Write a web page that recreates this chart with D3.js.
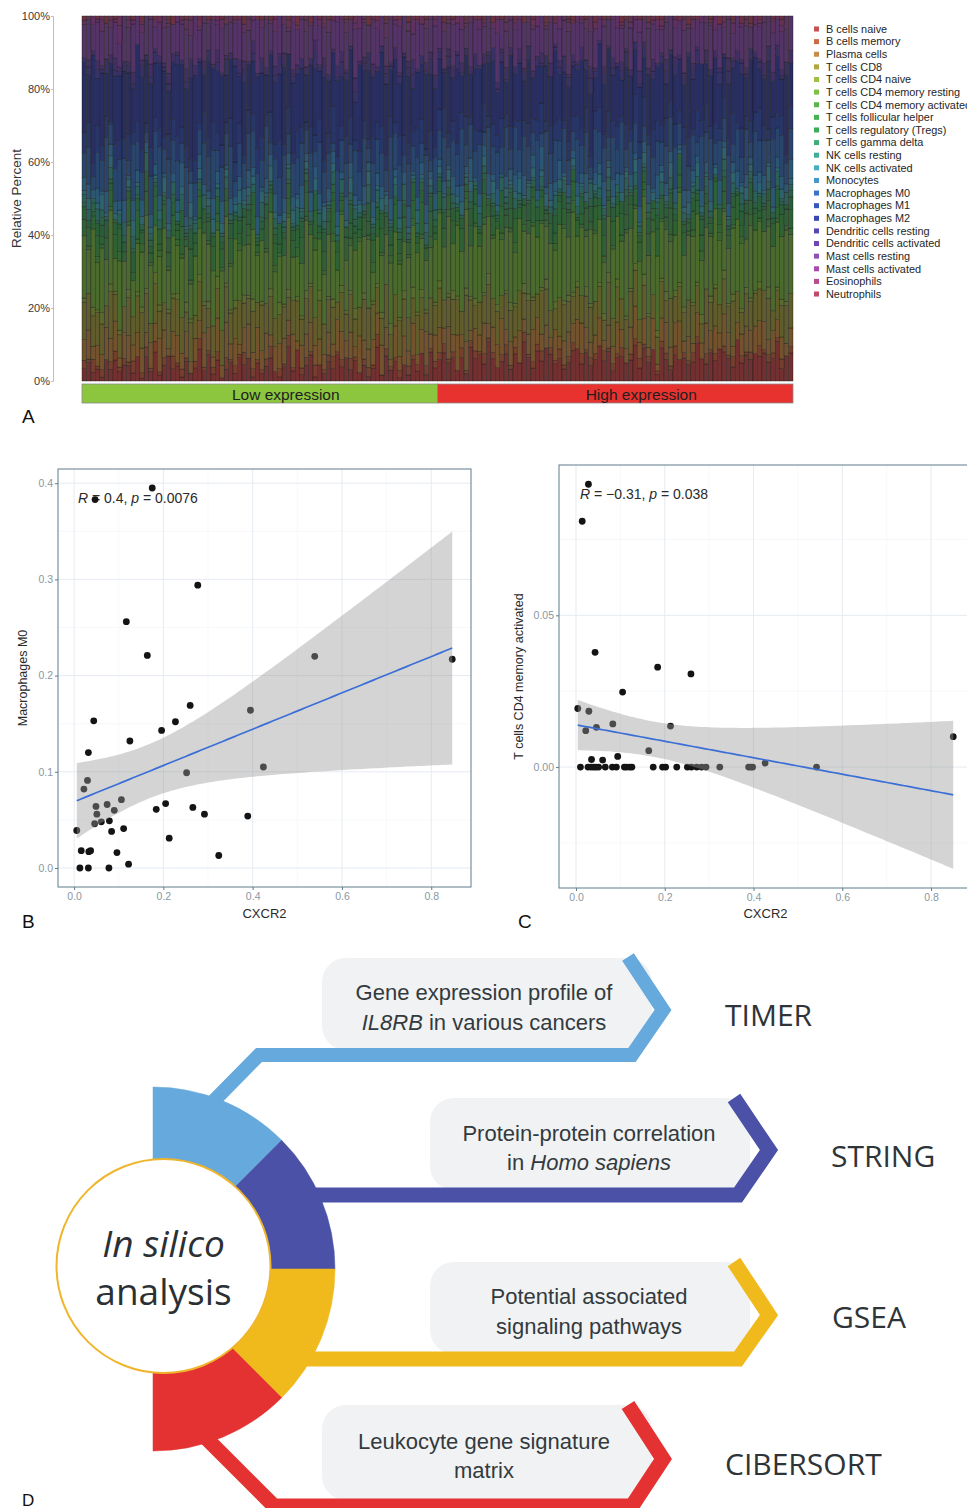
<!DOCTYPE html>
<html>
<head>
<meta charset="utf-8">
<script src="https://cdn.jsdelivr.net/npm/d3@7"></script>
<style>
	body { margin: 0; background: #ffffff; }
	svg { display: block; }
</style>
</head>
<body>
<script>
const WIDTH = 967;
const HEIGHT = 1508;

// ---------- Panel A: CIBERSORT fractions ----------
const cellTypes = [
	"B cells naive", "B cells memory", "Plasma cells", "T cells CD8", "T cells CD4 naive",
	"T cells CD4 memory resting", "T cells CD4 memory activated", "T cells follicular helper",
	"T cells regulatory (Tregs)", "T cells gamma delta", "NK cells resting", "NK cells activated",
	"Monocytes", "Macrophages M0", "Macrophages M1", "Macrophages M2", "Dendritic cells resting",
	"Dendritic cells activated", "Mast cells resting", "Mast cells activated", "Eosinophils", "Neutrophils"
];
const cellColors = [
	"#c64f4f", "#cc6a45", "#c88c4a", "#b0a63f", "#9fbf43", "#7fbf45", "#58b54c", "#45b152",
	"#3daa5a", "#40ad78", "#40ad9c", "#44aec2", "#4496cc", "#3a73c6", "#3556bd", "#3a45b0",
	"#5548b5", "#6e45b3", "#9150b8", "#aa4aae", "#b84a90", "#c04a6a"
];
// one string per cell type, one base-36 digit per sample (relative weight), low expression samples first
const fractions = [
	"3524163725 4261538247 3516249372 5136274815 2463159372 4815263947 3625148273 5142637284 6958372a68 5b7469385c 7496a85736 8c5947a693 6857b49682 a7395846b7 5968a74c58 6a7958b469",
	"2131202312 1302213120 3121023112 2031213021 1230213102 2130123120 3102213021 1203120312 2312031221 3120231203 1223021312 2031220312 1302231201 2213021320 3120213021 2031221302",
	"5837496a28 7469385b72 6948375a63 8495736c49 5738694a27 6958473b85 7396485a62 8475936b48 7596a48365 9487b56394 6a85739468 5b97468375 8649a57382 7a58946375 9684b73568 6a79485736",
	"9a7b86c958 a79d86b97a 8c96a7b859 7b9a8d69a7 c8a97b6a98 9b7c8a96b8 a87d9b69c7 8a9b7c86a9 b98ca7d96a 8b9a7c89b8 a97db86c9a 7c8a9b96d8 9a8cb79a68 b7d98a9c86 a9b7c8d96a 8c9ab78a9b",
	"1021302110 2012103201 1203102120 3011202130 1020312011 2103012021 1302011203 0120312101 2013102120 1302012103 2101302012 1203101230 2011203102 1302120113 0210312012 1120301210",
	"fcighdjbfe h9ckfidgjb egfh9idkfg bjhegfcihd gekfbhjd9g ifhgdjebkf chgif9bjeh gfckhidgej jhlgkimfjh kgjnhlifkg imhjgkfnij lhkgjmifhk gjnkhiljgm hkfjliglkh ijmgkhjlif kmhjgnikhj",
	"0102101020 1013010201 0210103010 2101020301 0102101020 1030102010 2010130102 0101201030 1020103010 2010201302 0101202010 3012010201 0210102030 1020101203 0102101020 3010201012",
	"4537264853 6274538264 5372846357 2648537462 3857264548 6372548637 4526374853 7264538472 5648372654 7362845736 4857263748 5637284657 3748562738 6475382645 7382645738 4627583746",
	"3214352413 2531423514 3241532413 4235142531 2413524315 3142532413 5231423514 2431523142 3524132541 4231524312 5342135241 3152432514 2453123524 1342531425 3214523143 5241325314",
	"1021201102 0112021010 2101102011 0201110201 1012021101 2010112010 1201021101 0210112012 1102010211 2011021010 1201102102 0110210120 1021011202 0112010211 2010211021 1201021102",
	"2314213024 1320421312 3041231420 2132041321 4213023142 1304213240 2312413021 3142031423 1423102314 2031421320 4123024132 1320413241 2031421302 4132031241 3201423130 2413204132",
	"1302413210 2413021342 0321413024 1320241320 3142031421 2031412302 4120321431 2302141320 2130241302 3142031241 1302421310 2413024132 0321413021 3240123142 1320413024 2031421302",
	"3425163427 1536243517 2463514326 3715243625 1436253417 2635143527 4316253416 2537143625 2416352714 3625143526 1437253614 2536143725 3614253617 2435163425 3716243514 2635173426",
	"6a3c8f5b9d 4e7a2c9g6b 8d5f3a7c9e 5b8h4a6d9c 7e3b9f5a8d 6c4g8b2e9a 5d7f3c8b6h 9a4e7c5g3b 8e5c9h6a7f 4d9b8g5e6c a7f4h9c6b8 5g8d3e9a7c 6h5b9f4d8a 7c9e5g6b4h 9d6a8f5c7e 4g9b6h8d5a",
	"5739461846 7358294637 5846372958 4739562847 6385947365 2847369548 7356284946 3857496283 6947358264 8375946285 7469385726 4958367485 6274958376 5948367295 8463759284 6795384627",
	"hdpgjcfnel gbjrdkfmhc eogilqhbkg fmcjpeigdk hbfkgreldi cjhfmgdqeh iblgfjcpkd gfjmcheogi eciflbhdgj cfkdhbiegc jdgbhfleci dhkcgbifjd fcgiehbkdg jbdhcfkgei cgjbehdifc hkbfidgcje",
	"1203140213 2104123012 0312401230 2140213021 3012410213 0241320142 1302410231 0213402143 2130412031 0241310213 4021301243 1203421302 1340213021 2413021340 1203142031 3021402130",
	"0213102410 1302041213 2104130201 3012042130 1203140210 2031201431 0412031021 3102410321 1024130210 3102142031 0213041201 2140310213 0312041230 1403120210 3021041312 0214031204",
	"8b6d9a7c5e 9c7a8e6b9d 7a9c6f8b7d 6e8a9c7b5f 8d7b9a6e8c 9a6c8d7f9b 7e8b6d9a8c 6d9a7e8b9f 9c7e8a6d9b 8a6f9c7b8e 7d9b8c6a9e 8f7a9d6c8b 9b8e7c6d9a 7c9a8f6b8d 8e6b9c7a9d 6a9d8e7c8b",
	"1021302140 2103012031 0213401210 1302102410 2014031201 3102140213 0231012041 1203410312 0312041203 1024031210 2130120413 0213401201 3102140213 1203041302 2140213012 0312041230",
	"0100101020 1001000201 0010102001 1020010100 0101002010 1000201001 0201010010 1000102001 0010201001 1001020100 0200101001 1010020010 0102001010 2001010100 0100201001 1010010200",
	"1001020100 0102001001 2001001010 0100102001 1010001020 0201010001 1000201010 0102010100 0201001010 1020100102 0100201001 1001020100 0210010201 1000102010 0102001020 2010010100"
];
const groupNames = ["Low expression", "High expression"];
const groupSizes = [80, 80];
const groupColors = ["#8cc63f", "#e8322f"];
const percentTicks = [0, 0.2, 0.4, 0.6, 0.8, 1];

// ---------- Panel B: Macrophages M0 vs CXCR2 ----------
const m0Cxcr2 = [0.175, 0.277, 0.117, 0.164, 0.539, 0.847, 0.260, 0.395, 0.044, 0.227, 0.196, 0.125, 0.032, 0.252, 0.424,
	0.030, 0.022, 0.106, 0.049, 0.074, 0.090, 0.051, 0.205, 0.184, 0.266, 0.292, 0.389, 0.046, 0.061, 0.079,
	0.006, 0.084, 0.111, 0.213, 0.016, 0.033, 0.037, 0.096, 0.324, 0.122, 0.013, 0.032, 0.078, 0.047];
const m0Values = [0.395, 0.294, 0.256, 0.221, 0.220, 0.217, 0.169, 0.164, 0.153, 0.152, 0.143, 0.132, 0.120, 0.099, 0.105,
	0.091, 0.082, 0.071, 0.064, 0.066, 0.060, 0.056, 0.067, 0.061, 0.063, 0.056, 0.054, 0.046, 0.048, 0.049,
	0.039, 0.038, 0.041, 0.031, 0.018, 0.017, 0.018, 0.016, 0.013, 0.004, 0, 0, 0, 0.383];
const m0Stat = { r: "0.4", p: "0.0076" };

// ---------- Panel C: T cells CD4 memory activated vs CXCR2 ----------
const cd4Cxcr2 = [0.028, 0.014, 0.043, 0.184, 0.259, 0.105, 0.004, 0.029, 0.083, 0.213, 0.046, 0.022, 0.850, 0.164, 0.094,
	0.426, 0.035, 0.060, 0.010, 0.027, 0.034, 0.040, 0.045, 0.051, 0.066, 0.082, 0.091, 0.109, 0.114, 0.121,
	0.126, 0.174, 0.195, 0.202, 0.227, 0.251, 0.260, 0.272, 0.283, 0.293, 0.324, 0.389, 0.394, 0.398, 0.542];
const cd4Values = [0.0932, 0.0810, 0.0378, 0.0329, 0.0307, 0.0247, 0.0193, 0.0184, 0.0142, 0.0135, 0.0131, 0.0120, 0.0100, 0.0054, 0.0035,
	0.0013, 0.0025, 0.0023, 0, 0, 0, 0, 0, 0, 0, 0, 0, 0, 0, 0,
	0, 0, 0, 0, 0, 0, 0, 0, 0, 0, 0, 0, 0, 0, 0];
const cd4Stat = { r: "\u22120.31", p: "0.038" };

// ---------- Panel D: workflow ----------
const workflowTools = ["TIMER", "STRING", "GSEA", "CIBERSORT"];
const workflowColors = ["#65a9dd", "#4a51a7", "#f0b91c", "#e43232"];
const workflowText = [
	[[["Gene expression profile of", false]], [["IL8RB", true], [" in various cancers", false]]],
	[[["Protein-protein correlation", false]], [["in ", false], ["Homo sapiens", true]]],
	[[["Potential associated", false]], [["signaling pathways", false]]],
	[[["Leukocyte gene signature", false]], [["matrix", false]]]
];

const svg = d3.select("body").append("svg")
	.attr("width", WIDTH)
	.attr("height", HEIGHT)
	.style("font-family", "'Liberation Sans', Arial, sans-serif");

// =============== Panel A ===============
const A = { left: 82, right: 793, top: 16, bottom: 381 };

const cleaned = fractions.map(s => s.replace(/\s/g, ""));
const sampleCount = d3.min(cleaned, s => s.length);
const rows = d3.range(sampleCount).map(i => {
	const row = { id: i };
	cellTypes.forEach((t, k) => row[t] = parseInt(cleaned[k][i], 36) || 0);
	return row;
});

const stacked = d3.stack()
	.keys(cellTypes)
	.offset(d3.stackOffsetExpand)(rows);

const xA = d3.scaleBand()
	.domain(d3.range(sampleCount))
	.range([A.left, A.right]);

const yA = d3.scaleLinear()
	.domain([0, 1])
	.range([A.bottom, A.top]);

// bars are drawn dark: thin black outlines dominate the dense columns in the original
const barFill = c => {
	const h = d3.hsl(c);
	h.s *= 0.8;
	return h.darker(1.5);
};

svg.append("g")
	.selectAll("g")
	.data(stacked)
	.join("g")
	.attr("fill", (d, i) => barFill(cellColors[i]))
	.selectAll("rect")
	.data(d => d)
	.join("rect")
	.attr("x", d => xA(d.data.id))
	.attr("y", d => yA(d[1]))
	.attr("width", xA.bandwidth())
	.attr("height", d => Math.max(0, yA(d[0]) - yA(d[1])))
	.attr("stroke", "#141414")
	.attr("stroke-width", 0.5)
	.attr("stroke-opacity", 0.75);

const yAxisA = svg.append("g")
	.attr("transform", `translate(53,0)`)
	.call(d3.axisLeft(yA).tickValues(percentTicks).tickFormat(d3.format(".0%")).tickSize(2).tickPadding(1));
yAxisA.select(".domain").attr("stroke", "#d4b6aa");
yAxisA.selectAll(".tick line").attr("stroke", "#d4b6aa");
yAxisA.selectAll(".tick text")
	.attr("fill", "#3a3a3a")
	.attr("font-size", "11px")
	.attr("font-family", "'Liberation Sans', Arial, sans-serif");

svg.append("text")
	.attr("transform", `translate(21,${(A.top + A.bottom) / 2}) rotate(-90)`)
	.attr("text-anchor", "middle")
	.attr("font-size", "13.5px")
	.attr("fill", "#333")
	.text("Relative Percent");

// expression group bar
let offset = 0;
groupNames.forEach((name, g) => {
	const x0 = xA(offset);
	const w = xA.step() * groupSizes[g];
	svg.append("rect")
		.attr("x", x0)
		.attr("y", 384)
		.attr("width", w)
		.attr("height", 19)
		.attr("fill", groupColors[g])
		.attr("stroke", "#8a8a8a")
		.attr("stroke-width", 0.8);
	svg.append("text")
		.attr("x", x0 + w / 2 + 26)
		.attr("y", 399.5)
		.attr("text-anchor", "middle")
		.attr("font-size", "15.5px")
		.attr("fill", "#1e1e1e")
		.text(name);
	offset += groupSizes[g];
});

// legend
const legend = svg.append("g").attr("transform", "translate(814,29)");
const legendRow = legend.selectAll("g")
	.data(cellTypes)
	.join("g")
	.attr("transform", (d, i) => `translate(0,${i * 12.62})`);
legendRow.append("rect")
	.attr("x", 0)
	.attr("y", -2.5)
	.attr("width", 5)
	.attr("height", 5)
	.attr("fill", (d, i) => cellColors[i]);
legendRow.append("text")
	.attr("x", 12)
	.attr("y", 3.8)
	.attr("font-size", "10.9px")
	.attr("fill", "#262626")
	.text(d => d);

// =============== Panels B and C ===============
function linearFit(xs, ys) {
	const n = xs.length;
	const mx = d3.mean(xs);
	const my = d3.mean(ys);
	let sxx = 0, sxy = 0;
	xs.forEach((x, i) => {
		sxx += (x - mx) * (x - mx);
		sxy += (x - mx) * (ys[i] - my);
	});
	const slope = sxy / sxx;
	const intercept = my - slope * mx;
	const sse = d3.sum(xs, (x, i) => (ys[i] - intercept - slope * x) ** 2);
	const s = Math.sqrt(sse / (n - 2));
	const T_QUANTILE = 2.017;
	return {
		at: x => intercept + slope * x,
		half: x => T_QUANTILE * s * Math.sqrt(1 / n + (x - mx) ** 2 / sxx)
	};
}

function drawScatter(cfg) {
	const { box, xs, ys, xTicks, yTicks, yFormat, yTitle, stat } = cfg;
	const fit = linearFit(xs, ys);
	const [xMin, xMax] = d3.extent(xs);
	const band = d3.range(0, 101).map(i => {
		const x = xMin + (xMax - xMin) * i / 100;
		const y = fit.at(x);
		const h = fit.half(x);
		return { x, y, lo: y - h, hi: y + h };
	});
	const yLo = Math.min(d3.min(ys), d3.min(band, d => d.lo));
	const yHi = Math.max(d3.max(ys), d3.max(band, d => d.hi));
	const xPad = (xMax - xMin) * 0.05;
	const yPad = (yHi - yLo) * 0.05;

	const x = d3.scaleLinear().domain([xMin - xPad, xMax + xPad]).range([box.x0, box.x1]);
	const y = d3.scaleLinear().domain([yLo - yPad, yHi + yPad]).range([box.y1, box.y0]);

	const g = svg.append("g");
	g.append("rect")
		.attr("x", box.x0).attr("y", box.y0)
		.attr("width", box.x1 - box.x0).attr("height", box.y1 - box.y0)
		.attr("fill", "#ffffff");

	// grid
	const halfSteps = (ticks, domain) => {
		const step = ticks[1] - ticks[0];
		return d3.range(-10, 30).map(k => ticks[0] + (k + 0.5) * step)
			.filter(v => v > domain[0] && v < domain[1]);
	};
	const gx = halfSteps(xTicks, x.domain());
	const gy = halfSteps(yTicks, y.domain());
	g.selectAll(".minor-x").data(gx).join("line")
		.attr("x1", d => x(d)).attr("x2", d => x(d))
		.attr("y1", box.y0).attr("y2", box.y1)
		.attr("stroke", "#f1f4f7").attr("stroke-width", 0.6);
	g.selectAll(".minor-y").data(gy).join("line")
		.attr("x1", box.x0).attr("x2", box.x1)
		.attr("y1", d => y(d)).attr("y2", d => y(d))
		.attr("stroke", "#f1f4f7").attr("stroke-width", 0.6);
	g.selectAll(".major-x").data(xTicks).join("line")
		.attr("x1", d => x(d)).attr("x2", d => x(d))
		.attr("y1", box.y0).attr("y2", box.y1)
		.attr("stroke", "#e5ebf1").attr("stroke-width", 1);
	g.selectAll(".major-y").data(yTicks).join("line")
		.attr("x1", box.x0).attr("x2", box.x1)
		.attr("y1", d => y(d)).attr("y2", d => y(d))
		.attr("stroke", "#e5ebf1").attr("stroke-width", 1);

	// correlation label
	const label = g.append("text")
		.attr("x", cfg.statX)
		.attr("y", cfg.statY)
		.attr("font-size", "14px")
		.attr("fill", "#2a2a2a");
	label.append("tspan").attr("font-style", "italic").text("R");
	label.append("tspan").text(` = ${stat.r}, `);
	label.append("tspan").attr("font-style", "italic").text("p");
	label.append("tspan").text(` = ${stat.p}`);

	// points
	g.selectAll(".pt").data(xs).join("circle")
		.attr("cx", d => x(d))
		.attr("cy", (d, i) => y(ys[i]))
		.attr("r", 3.4)
		.attr("fill", "#141414");

	// confidence ribbon and fit line
	g.append("path")
		.datum(band)
		.attr("d", d3.area().x(d => x(d.x)).y0(d => y(d.lo)).y1(d => y(d.hi)))
		.attr("fill", "#999999")
		.attr("fill-opacity", 0.42);
	g.append("path")
		.datum(band)
		.attr("d", d3.line().x(d => x(d.x)).y(d => y(d.y)))
		.attr("fill", "none")
		.attr("stroke", "#3b6fd6")
		.attr("stroke-width", 1.7);

	g.append("rect")
		.attr("x", box.x0).attr("y", box.y0)
		.attr("width", box.x1 - box.x0).attr("height", box.y1 - box.y0)
		.attr("fill", "none")
		.attr("stroke", "#5f7d8b")
		.attr("stroke-width", 1);

	const xAxis = g.append("g")
		.attr("transform", `translate(0,${box.y1})`)
		.call(d3.axisBottom(x).tickValues(xTicks).tickFormat(d3.format(".1f")).tickSize(3).tickPadding(3));
	const yAxis = g.append("g")
		.attr("transform", `translate(${box.x0},0)`)
		.call(d3.axisLeft(y).tickValues(yTicks).tickFormat(d3.format(yFormat)).tickSize(3).tickPadding(2));
	[xAxis, yAxis].forEach(a => {
		a.select(".domain").remove();
		a.selectAll(".tick line").attr("stroke", "#5f7d8b");
		a.selectAll(".tick text")
			.attr("fill", "#8a97a2")
			.attr("font-size", "10.5px")
			.attr("font-family", "'Liberation Sans', Arial, sans-serif");
	});

	svg.append("text")
		.attr("x", (box.x0 + box.x1) / 2)
		.attr("y", 918)
		.attr("text-anchor", "middle")
		.attr("font-size", "13px")
		.attr("fill", "#2a2a2a")
		.text("CXCR2");
	svg.append("text")
		.attr("transform", `translate(${cfg.titleX},${(box.y0 + box.y1) / 2}) rotate(-90)`)
		.attr("text-anchor", "middle")
		.attr("font-size", "12.5px")
		.attr("fill", "#2a2a2a")
		.text(yTitle);
}

drawScatter({
	box: { x0: 58, x1: 471, y0: 469, y1: 887 },
	xs: m0Cxcr2, ys: m0Values,
	xTicks: [0, 0.2, 0.4, 0.6, 0.8], yTicks: [0, 0.1, 0.2, 0.3, 0.4], yFormat: ".1f",
	yTitle: "Macrophages M0", titleX: 27,
	stat: m0Stat, statX: 78, statY: 503
});

drawScatter({
	box: { x0: 559, x1: 972, y0: 465, y1: 888 },
	xs: cd4Cxcr2, ys: cd4Values,
	xTicks: [0, 0.2, 0.4, 0.6, 0.8], yTicks: [0, 0.05], yFormat: ".2f",
	yTitle: "T cells CD4 memory activated", titleX: 523,
	stat: cd4Stat, statX: 580, statY: 499
});

// panel letters
[["A", 22, 423], ["B", 22, 928], ["C", 518, 928], ["D", 22, 1506]].forEach(([t, x, y]) => {
	svg.append("text")
		.attr("x", x).attr("y", y)
		.attr("font-size", t === "D" ? "17px" : "19px")
		.attr("fill", "#111")
		.text(t);
});

// =============== Panel D ===============
const RING = { cx: 153, cy: 1269, r: 182 };
const HUB = { cx: 163.5, cy: 1266, r: 107 };

const layoutD = [
	{ path: [[195, 1120], [259, 1055], [632, 1055], [663, 1010], [628, 957]], width: 14,
		box: [322, 958, 330, 92], textX: 484, textY: [1000, 1030], toolX: 725, toolY: 1026 },
	{ path: [[290, 1195], [738, 1195], [769, 1150], [734, 1098]], width: 15,
		box: [430, 1098, 320, 92], textX: 589, textY: [1141, 1170], toolX: 831, toolY: 1167 },
	{ path: [[290, 1359], [738, 1359], [769, 1315], [734, 1262]], width: 15,
		box: [430, 1262, 320, 92], textX: 589, textY: [1304, 1334], toolX: 832, toolY: 1328 },
	{ path: [[190, 1422], [274, 1506], [632, 1506], [663, 1459], [628, 1405]], width: 15,
		box: [322, 1405, 330, 95], textX: 484, textY: [1449, 1478], toolX: 725, toolY: 1475 }
];

const dGroup = svg.append("g");

layoutD.forEach(s => {
	dGroup.append("rect")
		.attr("x", s.box[0]).attr("y", s.box[1])
		.attr("width", s.box[2]).attr("height", s.box[3])
		.attr("rx", 24)
		.attr("fill", "#f1f2f3");
});

layoutD.forEach((s, i) => {
	dGroup.append("path")
		.attr("d", d3.line()(s.path))
		.attr("fill", "none")
		.attr("stroke", workflowColors[i])
		.attr("stroke-width", s.width)
		.attr("stroke-linejoin", "miter")
		.attr("stroke-miterlimit", 10);

	const text = dGroup.append("text")
		.attr("text-anchor", "middle")
		.attr("font-size", "22px")
		.attr("fill", "#333a3e");
	workflowText[i].forEach((line, li) => {
		const t = text.append("tspan")
			.attr("x", s.textX)
			.attr("y", s.textY[li]);
		line.forEach(([str, italic]) => {
			t.append("tspan")
				.attr("font-style", italic ? "italic" : "normal")
				.text(str);
		});
	});

	dGroup.append("text")
		.attr("x", s.toolX)
		.attr("y", s.toolY)
		.attr("font-family", "'Open Sans', sans-serif")
		.attr("font-size", "30px")
		.attr("fill", "#2e3437")
		.text(workflowTools[i]);
});

const ringArc = d3.arc().innerRadius(0).outerRadius(RING.r);
dGroup.append("g")
	.attr("transform", `translate(${RING.cx},${RING.cy})`)
	.selectAll("path")
	.data(workflowColors)
	.join("path")
	.attr("d", (d, i) => ringArc({ startAngle: i * Math.PI / 4, endAngle: (i + 1) * Math.PI / 4 }))
	.attr("fill", d => d)
	.attr("stroke", d => d)
	.attr("stroke-width", 0.5);

dGroup.append("circle")
	.attr("cx", HUB.cx)
	.attr("cy", HUB.cy)
	.attr("r", HUB.r)
	.attr("fill", "#ffffff")
	.attr("stroke", "#efb52c")
	.attr("stroke-width", 2);

dGroup.append("text")
	.attr("x", HUB.cx)
	.attr("y", 1257)
	.attr("text-anchor", "middle")
	.attr("font-family", "'Open Sans', sans-serif")
	.attr("font-style", "italic")
	.attr("font-size", "37px")
	.attr("fill", "#2b3034")
	.text("In silico");
dGroup.append("text")
	.attr("x", HUB.cx)
	.attr("y", 1305)
	.attr("text-anchor", "middle")
	.attr("font-family", "'Open Sans', sans-serif")
	.attr("font-size", "37px")
	.attr("fill", "#2b3034")
	.text("analysis");
</script>
</body>
</html>
